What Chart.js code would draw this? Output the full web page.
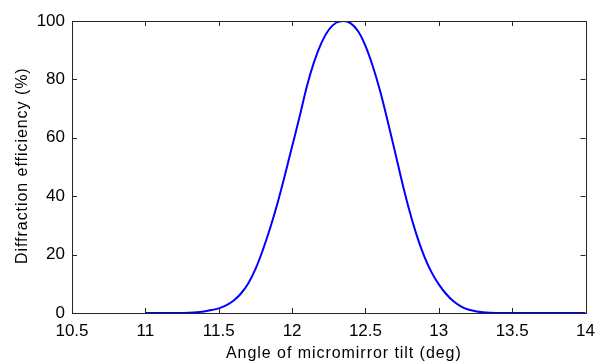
<!DOCTYPE html>
<html>
<head>
<meta charset="utf-8">
<script src="https://cdn.jsdelivr.net/npm/chart.js@4/dist/chart.umd.min.js"></script>
<style>
  html, body { margin: 0; padding: 0; background: #fff; }
  #wrap { width: 603px; height: 364px; }
</style>
</head>
<body>
<div id="wrap"><canvas id="c" width="603" height="364"></canvas></div>
<script>
const angles = [11.00, 11.05, 11.10, 11.15, 11.20, 11.25, 11.30, 11.35, 11.40, 11.45,
                11.50, 11.55, 11.60, 11.65, 11.70, 11.75, 11.80, 11.85, 11.90, 11.95,
                12.00, 12.05, 12.10, 12.15, 12.20, 12.25, 12.30, 12.35, 12.40, 12.45,
                12.50, 12.55, 12.60, 12.65, 12.70, 12.75, 12.80, 12.85, 12.90, 12.95,
                13.00, 13.05, 13.10, 13.15, 13.20, 13.25, 13.30, 13.35, 13.40, 13.45,
                13.50, 13.55, 13.60, 13.65, 13.70, 13.75, 13.80, 13.85, 13.90, 13.95, 14.00];
const efficiency = [0, 0, 0, 0, 0, 0.02, 0.08, 0.25, 0.55, 1.0,
                    1.6, 2.6, 4.2, 6.6, 10.0, 15.0, 21.5, 29.0, 37.5, 47.0,
                    57.0, 67.0, 77.5, 86.0, 92.5, 97.0, 99.4, 100, 99.2, 96.5,
                    91.5, 84.5, 76.0, 66.0, 55.5, 44.8, 35.0, 26.5, 19.5, 14.0,
                    9.8, 6.5, 4.0, 2.3, 1.2, 0.6, 0.25, 0.08, 0.02, 0,
                    0, 0, 0, 0, 0, 0, 0, 0, 0, 0, 0];
const xTicks = [10.5, 11, 11.5, 12, 12.5, 13, 13.5, 14];
const yTicks = [0, 20, 40, 60, 80, 100];
const xTitle = 'Angle of micromirror tilt (deg)';
const yTitle = 'Diffraction efficiency (%)';

const FONT = 'Arial, "Liberation Sans", sans-serif';
const AXIS_COLOR = '#262626';

const frameTicks = {
  id: 'frameTicks',
  afterDraw(chart) {
    const ctx = chart.ctx;
    const a = chart.chartArea;
    const xs = chart.scales.x, ys = chart.scales.y;
    ctx.save();
    ctx.strokeStyle = AXIS_COLOR;
    ctx.lineWidth = 1;
    ctx.strokeRect(Math.round(a.left) + 0.5, Math.round(a.top) + 0.5,
                   Math.round(a.right - a.left), Math.round(a.bottom - a.top));
    const L = 5;
    ctx.beginPath();
    xTicks.forEach(v => {
      const px = Math.round(xs.getPixelForValue(v)) + 0.5;
      ctx.moveTo(px, a.bottom); ctx.lineTo(px, a.bottom - L);
      ctx.moveTo(px, a.top); ctx.lineTo(px, a.top + L);
    });
    yTicks.forEach(v => {
      const py = Math.round(ys.getPixelForValue(v)) + 0.5;
      ctx.moveTo(a.left, py); ctx.lineTo(a.left + L, py);
      ctx.moveTo(a.right, py); ctx.lineTo(a.right - L, py);
    });
    ctx.stroke();

    // axis titles (wider letter spacing like the reference)
    ctx.fillStyle = '#000';
    ctx.font = '16px ' + FONT;
    try { ctx.letterSpacing = '0.95px'; } catch (e) {}
    ctx.textBaseline = 'alphabetic';
    ctx.textAlign = 'left';
    ctx.fillText(xTitle, 226, 358);
    ctx.save();
    ctx.translate(27, 264);
    ctx.rotate(-Math.PI / 2);
    ctx.fillText(yTitle, 0, 0);
    ctx.restore();
    ctx.restore();
  }
};

new Chart(document.getElementById('c'), {
  type: 'line',
  data: {
    datasets: [{
      data: angles.map((x, i) => ({ x: x, y: efficiency[i] })),
      borderColor: '#0000ff',
      borderWidth: 2,
      pointRadius: 0,
      fill: false,
      cubicInterpolationMode: 'monotone'
    }]
  },
  options: {
    responsive: false,
    animation: false,
    devicePixelRatio: 1,
    layout: { padding: { left: 0, right: 12, top: 21, bottom: 0 } },
    plugins: { legend: { display: false }, tooltip: { enabled: false } },
    scales: {
      x: {
        type: 'linear',
        min: 10.5, max: 14,
        afterBuildTicks: s => { s.ticks = xTicks.map(v => ({ value: v })); },
        afterFit: s => { s.height = 51; },
        grid: { display: false, drawTicks: false },
        border: { display: false },
        ticks: {
          color: '#000', padding: 8,
          font: { family: FONT, size: 17 },
          maxRotation: 0, autoSkip: false,
          callback: v => String(v)
        },
        title: { display: false }
      },
      y: {
        type: 'linear',
        min: 0, max: 100,
        afterBuildTicks: s => { s.ticks = yTicks.map(v => ({ value: v })); },
        afterFit: s => { s.width = 72; },
        grid: { display: false, drawTicks: false },
        border: { display: false },
        ticks: {
          color: '#000', padding: 7,
          font: { family: FONT, size: 17 },
          callback: v => String(v)
        },
        title: { display: false }
      }
    }
  },
  plugins: [frameTicks]
});
</script>
</body>
</html>
